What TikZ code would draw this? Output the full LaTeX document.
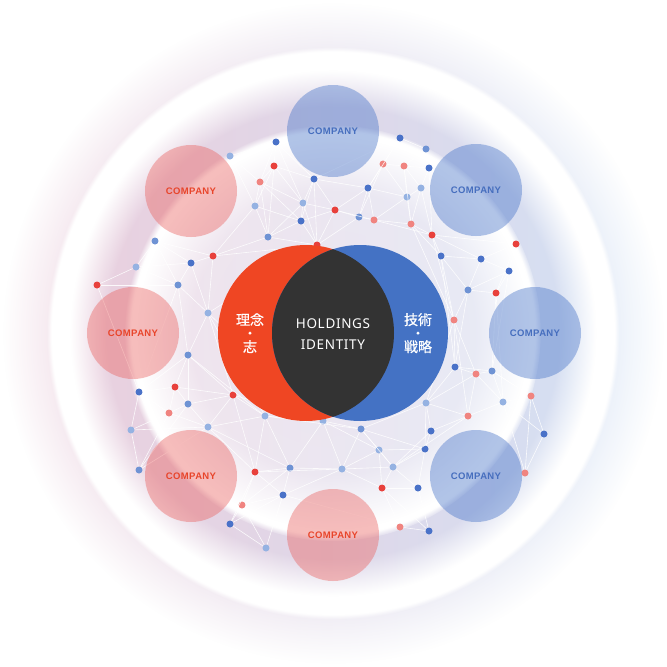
\documentclass[tikz,border=0pt]{standalone}
\usepackage{fontspec}
\setmainfont{Noto Sans}
\newfontfamily\jpfont[FakeBold=0.6]{Noto Sans CJK JP}
\newfontfamily\holdfont[LetterSpace=5]{Noto Sans}
\newfontfamily\cofont[LetterSpace=4]{Liberation Sans}
\usetikzlibrary{fadings}

\definecolor{hdred}{HTML}{EF4623}
\definecolor{hdblue}{HTML}{4472C4}
\definecolor{hddark}{HTML}{333333}
\definecolor{cored}{HTML}{E8452B}
\definecolor{coblue}{HTML}{466EBE}
\definecolor{cofillred}{HTML}{EA6260}
\definecolor{cofillblue}{HTML}{4673C8}
\definecolor{dotb}{HTML}{4A72C8}
\definecolor{dotm}{HTML}{6F93D4}
\definecolor{dotl}{HTML}{95B2E2}
\definecolor{dotr}{HTML}{E8413C}
\definecolor{dotp}{HTML}{F08480}
\definecolor{halopink}{HTML}{EDCDDB}
\definecolor{halolav}{HTML}{E6E4F1}
\definecolor{haloblue}{HTML}{D1E2F6}

% soft masks for the glows
\pgfdeclareradialshading{halomask}{\pgfpointorigin}{color(0bp)=(white); color(19bp)=(white); color(21bp)=(white!40!black); color(24.2bp)=(black); color(50bp)=(black)}
\pgfdeclarefading{halofade}{\pgfuseshading{halomask}}
\pgfdeclareradialshading{rimmask}{\pgfpointorigin}{color(0bp)=(black); color(19bp)=(black); color(22.1bp)=(white); color(23.7bp)=(white); color(24.1bp)=(black); color(50bp)=(black)}
\pgfdeclarefading{rimfade}{\pgfuseshading{rimmask}}
\pgfdeclareradialshading{innermask}{\pgfpointorigin}{color(0bp)=(white!35!black); color(17bp)=(white!40!black); color(23.5bp)=(white); color(24.2bp)=(white); color(25bp)=(black); color(50bp)=(black)}
\pgfdeclarefading{innerfade}{\pgfuseshading{innermask}}

\begin{document}
\begin{tikzpicture}[x=1pt,y=-1pt,
    dot/.style={circle,inner sep=0pt,minimum size=7pt,draw=none},
    web line/.style={white,line width=0.6pt,opacity=0.85},
    company/.style={circle,inner sep=0pt,minimum size=92pt,fill opacity=0.42,text opacity=1,
      font=\cofont\bfseries\fontsize{9.5}{11}\selectfont},
    co red/.style={company,fill=cofillred,text=cored},
    co blue/.style={company,fill=cofillblue,text=coblue},
    ball/.style={circle,inner sep=0pt,minimum size=176pt,draw=none},
    kanji/.style={white,inner sep=0pt,text height=9pt,text depth=1pt,
      font=\jpfont\fontsize{14}{16}\selectfont}]

  \useasboundingbox[fill=white] (0,0) rectangle (667,667);

  % background glows
  \shade[left color=halopink,middle color=halolav,right color=haloblue,path fading=halofade]
    (333,333) circle (340pt);
  \fill[white,path fading=rimfade] (333,333) circle (296pt);
  \fill[white,path fading=innerfade] (333,333) circle (208pt);

  % network dots
  \foreach \n/\x/\y/\s in {1/276/142/b,2/400/138/b,3/426/149/m,4/230/156/l,5/274/166/r,
      6/383/164/p,7/404/166/p,8/429/168/b,9/260/182/p,10/314/179/b,11/368/188/b,
      12/421/188/l,13/407/197/l,14/303/203/l,15/255/206/l,16/335/210/r,17/359/217/m,
      18/374/220/p,19/411/224/p,20/301/221/b,21/268/237/m,22/432/235/r,23/317/245/r,
      24/155/241/m,25/516/244/r,26/441/256/b,27/481/259/b,28/509/271/b,29/136/267/l,
      30/191/263/b,31/213/256/r,32/97/285/r,33/178/285/m,34/468/290/m,35/496/293/r,
      36/208/313/l,37/454/320/p,38/188/355/m,39/455/367/b,40/476/374/p,41/492/371/m,
      42/139/392/b,43/175/387/r,44/233/395/r,45/188/404/m,46/169/413/p,47/426/403/l,
      48/503/402/l,49/531/396/p,50/265/416/l,51/323/421/l,52/468/416/p,53/131/430/l,
      54/208/427/l,55/361/429/m,56/431/431/b,57/544/434/b,58/379/450/l,59/425/449/b,
      60/139/470/m,61/255/472/r,62/290/468/m,63/342/469/l,64/393/467/l,65/525/473/p,
      66/382/488/r,67/418/488/b,68/283/495/b,69/242/505/p,70/230/524/b,71/400/527/p,
      72/429/531/b,73/266/548/l}
    \node[dot,fill=dot\s] (d\n) at (\x,\y) {};

  % web
  \foreach \a/\b in {1/4,1/5,1/10,1/9,4/9,4/15,5/9,5/10,5/14,5/15,5/21,9/15,9/14,9/20,
      10/14,10/16,10/11,10/20,14/16,14/20,14/21,14/23,15/21,15/31,15/20,16/17,16/11,
      16/23,16/18,16/20,20/21,20/23,21/23,21/31,2/3,2/6,2/11,3/8,3/7,6/7,6/11,6/13,6/17,
      7/8,7/12,7/13,7/19,8/12,8/22,11/17,11/13,11/18,12/13,12/22,12/19,13/19,13/18,
      17/18,17/23,18/19,18/22,19/22,19/26,22/26,22/27,22/25,26/27,26/34,26/37,27/28,
      27/25,27/34,25/28,25/35,28/35,28/34,34/35,34/37,34/39,35/41,37/39,37/40,
      24/29,24/30,24/31,24/33,29/32,29/30,29/33,32/33,32/42,30/31,30/33,30/36,31/36,
      31/23,33/36,33/38,33/42,36/38,36/44,36/50,38/43,38/45,38/44,38/42,42/43,42/53,
      42/46,43/45,43/46,43/44,44/45,44/50,44/54,45/46,45/54,46/53,46/54,53/60,53/54,
      54/61,54/60,54/50,54/62,39/40,39/41,39/47,40/41,40/52,40/47,41/48,41/49,48/49,
      48/52,48/57,48/65,49/57,49/65,57/65,47/52,47/56,47/59,47/55,52/56,52/64,56/59,
      56/64,55/58,55/63,55/51,55/64,58/64,58/63,58/66,58/59,59/64,59/67,64/66,64/67,
      66/67,66/71,66/72,67/72,71/72,50/51,50/61,50/62,51/62,51/63,61/62,61/68,61/69,
      62/68,62/63,63/66,63/68,68/69,68/73,68/71,69/70,69/73,70/73,50/55,51/58,44/51,
      61/63,36/23,37/52,9/21,10/23,1/14,2/10,19/37,22/37,26/39,36/51,38/50,44/61,45/60,
      46/60,55/59,63/64,62/69,61/70,68/70,35/48,28/41,37/47,40/48,49/41}
    \draw[web line] (d\a) -- (d\b);

  % group companies
  \node[co blue] (ctop) at (333,131) {COMPANY};
  \node[co blue] (ctr) at (476,190) {COMPANY};
  \node[co blue] (cr) at (535,333) {COMPANY};
  \node[co blue] (cbr) at (476,476) {COMPANY};
  \node[co red] (cbot) at (333,535) {COMPANY};
  \node[co red] (cbl) at (191,476) {COMPANY};
  \node[co red] (cl) at (133,333) {COMPANY};
  \node[co red] (ctl) at (191,191) {COMPANY};

  % core
  \node[ball,fill=hdred] (ri) at (306,333) {};
  \node[ball,fill=hdblue] (gi) at (360,333) {};
  \begin{scope}
    \clip (ri.center) circle (88pt);
    \fill[hddark] (gi.center) circle (88pt);
  \end{scope}

  \node[white,align=center,font=\holdfont\fontsize{13.5}{21}\selectfont] (hold) at (333,334)
    {HOLDINGS\\IDENTITY};
  \node[kanji] (ri1) at (250,321) {理念};
  \node[kanji] (ri2) at (250,334.5) {・};
  \node[kanji] (ri3) at (250,348) {志};
  \node[kanji] (gi1) at (418,321) {技術};
  \node[kanji] (gi2) at (418,334.5) {・};
  \node[kanji] (gi3) at (418,348) {戦略};

\end{tikzpicture}
\end{document}
